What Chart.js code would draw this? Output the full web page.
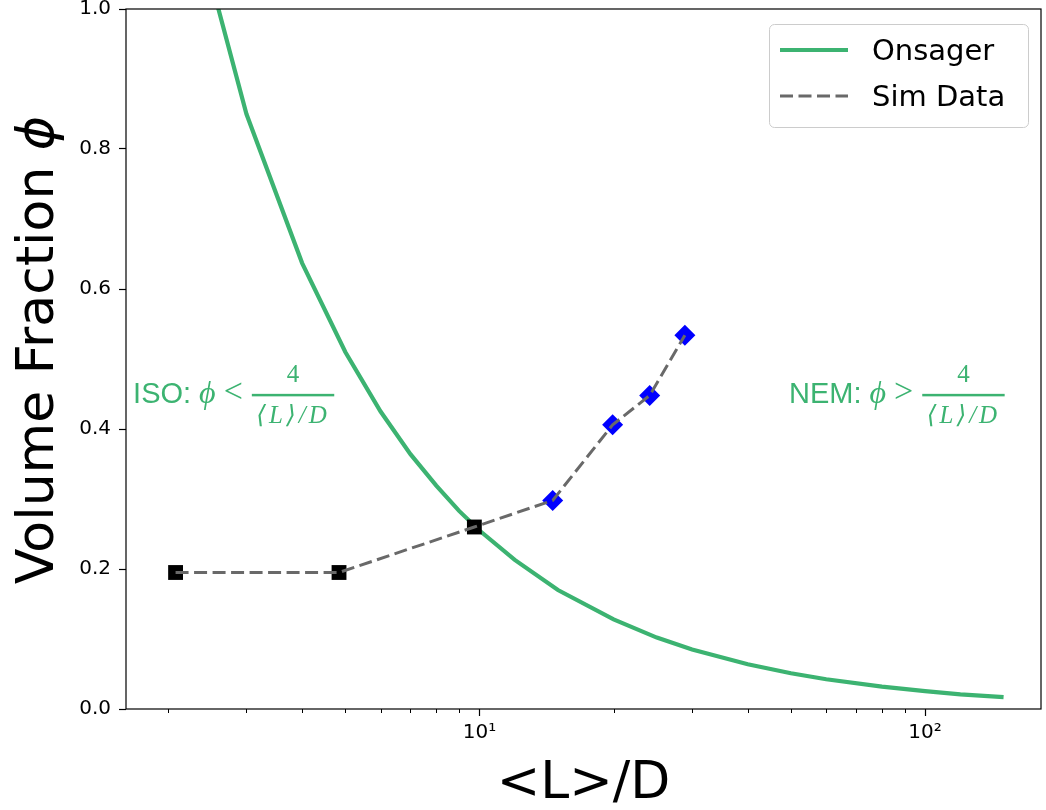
<!DOCTYPE html>
<html>
<head>
<meta charset="utf-8">
<script src="https://cdn.jsdelivr.net/npm/chart.js@4.4.0/dist/chart.umd.min.js"></script>
<style>
    html, body { margin: 0; padding: 0; background: #fff; }
    canvas { display: block; }
</style>
</head>
<body>
<canvas id="phaseChart" width="1046" height="810"></canvas>
<script>
// Onsager curve
const onsagerL = [2, 3, 4, 5, 6, 7, 8, 9, 10, 12, 15, 20, 25, 30, 40, 50, 60, 80, 100, 120, 150];
const onsagerPhi = [1.27, 0.85, 0.637, 0.51, 0.425, 0.364, 0.319, 0.283, 0.255, 0.213, 0.17, 0.128, 0.102, 0.085, 0.064, 0.051, 0.0425, 0.032, 0.0255, 0.021, 0.017];

// Simulation data
const simL = [2.08, 4.84, 9.74, 14.6, 19.9, 24.1, 28.9];
const simPhi = [0.195, 0.195, 0.26, 0.298, 0.406, 0.448, 0.534];
const simMarker = ['rect', 'rect', 'rect', 'rectRot', 'rectRot', 'rectRot', 'rectRot'];
const simColor = ['#000000', '#000000', '#000000', '#0000ff', '#0000ff', '#0000ff', '#0000ff'];

// Ticks
const xMajorTicks = [10, 100];
const xTickLabels = ['10¹', '10²'];
const xMinorTicks = [2, 3, 4, 5, 6, 7, 8, 9, 20, 30, 40, 50, 60, 70, 80, 90];
const yTicks = [0, 0.2, 0.4, 0.6, 0.8, 1.0];

const green = '#3cb371';
const gray = '#696969';
const simDash = [13, 5.5];

const onsagerPoints = onsagerL.map((l, i) => ({ x: l, y: onsagerPhi[i] }));
const simPoints = simL.map((l, i) => ({ x: l, y: simPhi[i] }));

// ISO / NEM labels, drawn like the mathtext ones
function drawMathLabel(ctx, x, y, word, rel) {
    ctx.save();
    ctx.fillStyle = green;
    ctx.textBaseline = 'alphabetic';
    ctx.textAlign = 'left';
    ctx.font = '29px "Liberation Sans", Arial, sans-serif';
    ctx.fillText(word, x, y);
    x += ctx.measureText(word).width + 8;
    ctx.font = 'italic 32px "Liberation Serif", "DejaVu Serif", serif';
    ctx.fillText('ϕ', x, y);
    x += ctx.measureText('ϕ').width + 8;
    ctx.font = '34px "Liberation Serif", "DejaVu Serif", serif';
    ctx.fillText(rel, x, y - 1);
    x += ctx.measureText(rel).width + 9;

    ctx.font = 'italic 25px "Liberation Serif", "DejaVu Serif", "DejaVu Sans", serif';
    ctx.letterSpacing = '3px';
    const den = '⟨L⟩/D';
    const denW = ctx.measureText(den).width;
    const barW = denW + 9;
    const barY = y - 8;
    ctx.fillRect(x, barY - 1.25, barW, 2.5);
    ctx.fillText(den, x + 4.5, barY + 28);
    ctx.letterSpacing = '0px';
    ctx.textAlign = 'center';
    ctx.font = '25px "Liberation Serif", "DejaVu Serif", serif';
    ctx.fillText('4', x + barW / 2, barY - 13);
    ctx.restore();
}

const extras = {
    id: 'extras',
    afterDraw(chart) {
        const ctx = chart.ctx;
        const area = chart.chartArea;
        const xs = chart.scales.x;
        const ys = chart.scales.y;

        // frame
        ctx.save();
        ctx.strokeStyle = '#000';
        ctx.lineWidth = 1.2;
        ctx.strokeRect(area.left, area.top, area.right - area.left, area.bottom - area.top);

        // minor x ticks
        ctx.lineWidth = 1;
        ctx.beginPath();
        xMinorTicks.forEach(v => {
            const px = Math.round(xs.getPixelForValue(v)) + 0.5;
            ctx.moveTo(px, area.bottom);
            ctx.lineTo(px, area.bottom + 4);
        });
        ctx.stroke();
        ctx.restore();

        // y title
        ctx.save();
        ctx.translate(53, 350);
        ctx.rotate(-Math.PI / 2);
        ctx.fillStyle = '#000';
        ctx.textBaseline = 'alphabetic';
        ctx.textAlign = 'left';
        ctx.font = '52px "DejaVu Sans"';
        const t1 = 'Volume Fraction ';
        const w1 = ctx.measureText(t1).width;
        ctx.font = 'italic 52px "DejaVu Sans"';
        const w2 = ctx.measureText('ϕ').width;
        const start = -(w1 + w2) / 2;
        ctx.font = '52px "DejaVu Sans"';
        ctx.fillText(t1, start, 0);
        ctx.font = 'italic 52px "DejaVu Sans"';
        ctx.fillText('ϕ', start + w1, 0);
        ctx.restore();

        // phase labels
        drawMathLabel(ctx, xs.getPixelForValue(1.67), ys.getPixelForValue(0.437), 'ISO:', '<');
        drawMathLabel(ctx, xs.getPixelForValue(49.5), ys.getPixelForValue(0.437), 'NEM:', '>');

        // legend
        const bx = area.right - 13 - 259;
        const by = area.top + 15;
        ctx.save();
        ctx.beginPath();
        ctx.roundRect(bx + 0.5, by + 0.5, 259, 103, 5);
        ctx.fillStyle = 'rgba(255,255,255,0.8)';
        ctx.fill();
        ctx.strokeStyle = '#cccccc';
        ctx.lineWidth = 1;
        ctx.stroke();

        ctx.lineWidth = 4.2;
        ctx.strokeStyle = green;
        ctx.beginPath();
        ctx.moveTo(bx + 11, by + 26);
        ctx.lineTo(bx + 79, by + 26);
        ctx.stroke();

        ctx.lineWidth = 3;
        ctx.strokeStyle = gray;
        ctx.setLineDash(simDash);
        ctx.beginPath();
        ctx.moveTo(bx + 11, by + 72);
        ctx.lineTo(bx + 79, by + 72);
        ctx.stroke();
        ctx.setLineDash([]);

        ctx.fillStyle = '#000';
        ctx.font = '29px "DejaVu Sans"';
        ctx.textBaseline = 'alphabetic';
        ctx.fillText('Onsager', bx + 103, by + 36);
        ctx.fillText('Sim Data', bx + 103, by + 82);
        ctx.restore();
    }
};

const phaseChart = new Chart(document.getElementById('phaseChart'), {
    type: 'line',
    data: {
        datasets: [{
            label: 'Onsager',
            data: onsagerPoints,
            borderColor: green,
            borderWidth: 4.2,
            pointRadius: 0,
            tension: 0,
            clip: 0,
            order: 3
        }, {
            label: 'Sim markers',
            data: simPoints,
            showLine: false,
            pointStyle: simMarker,
            pointRadius: 10.5,
            pointBackgroundColor: simColor,
            pointBorderWidth: 0,
            clip: false,
            order: 2
        }, {
            label: 'Sim Data',
            data: simPoints,
            borderColor: gray,
            borderWidth: 3,
            borderDash: simDash,
            pointRadius: 0,
            tension: 0,
            order: 1
        }]
    },
    options: {
        responsive: false,
        animation: false,
        layout: { autoPadding: false, padding: { top: 9, right: 5, left: 0, bottom: 0 } },
        plugins: {
            legend: { display: false },
            tooltip: { enabled: false }
        },
        scales: {
            x: {
                type: 'logarithmic',
                min: 1.61,
                max: 182,
                afterBuildTicks: scale => {
                    scale.ticks = xMajorTicks.map(v => ({ value: v, major: true }));
                },
                afterFit: scale => {
                    scale.height = 101;
                    scale.paddingLeft = 0;
                    scale.paddingRight = 0;
                },
                ticks: {
                    autoSkip: false,
                    maxRotation: 0,
                    padding: 5,
                    color: '#000',
                    font: { family: 'DejaVu Sans', size: 20 },
                    callback: v => xTickLabels[xMajorTicks.indexOf(v)]
                },
                grid: {
                    drawOnChartArea: false,
                    tickLength: 7,
                    tickColor: '#000',
                    tickWidth: 1.2
                },
                border: { display: false },
                title: {
                    display: true,
                    text: '<L>/D',
                    color: '#000',
                    font: { family: 'DejaVu Sans', size: 52, lineHeight: 1 },
                    padding: { top: 0, bottom: 0 }
                }
            },
            y: {
                min: 0,
                max: 1,
                afterBuildTicks: scale => {
                    scale.ticks = yTicks.map(v => ({ value: v }));
                },
                afterFit: scale => {
                    scale.width = 126;
                    scale.paddingTop = 0;
                    scale.paddingBottom = 0;
                },
                ticks: {
                    padding: 8,
                    color: '#000',
                    font: { family: 'DejaVu Sans', size: 20 },
                    callback: v => v.toFixed(1)
                },
                grid: {
                    drawOnChartArea: false,
                    tickLength: 7,
                    tickColor: '#000',
                    tickWidth: 1.2
                },
                border: { display: false }
            }
        }
    },
    plugins: [extras]
});
</script>
</body>
</html>
